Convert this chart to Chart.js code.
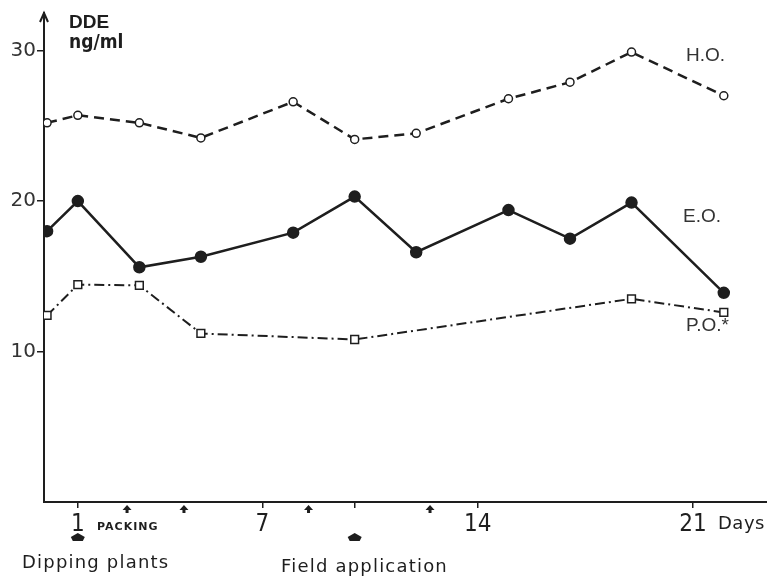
<!DOCTYPE html>
<html>
<head>
<meta charset="utf-8">
<script src="https://cdn.jsdelivr.net/npm/chart.js@4.4.1/dist/chart.umd.min.js"></script>
<style>
  html, body { margin: 0; padding: 0; background: #fff; }
  #wrap { width: 767px; height: 580px; position: relative; }
</style>
</head>
<body>
<div id="wrap"><canvas id="ddeChart"></canvas></div>
<script>
// days of sampling and DDE levels (ng/ml)
const hoDays = [0, 1, 3, 5, 8, 10, 12, 15, 17, 19, 22];
const hoValues = [25.2, 25.7, 25.2, 24.2, 26.6, 24.1, 24.5, 26.8, 27.9, 29.9, 27.0];
const eoDays = [0, 1, 3, 5, 8, 10, 12, 15, 17, 19, 22];
const eoValues = [18.0, 20.0, 15.6, 16.3, 17.9, 20.3, 16.6, 19.4, 17.5, 19.9, 13.9];
const poDays = [0, 1, 3, 5, 10, 19, 22];
const poValues = [12.4, 14.45, 14.4, 11.2, 10.8, 13.5, 12.6];

const xTickDays = [1, 7, 10, 14, 21];
const xTickLabels = { 1: '1', 7: '7', 14: '14', 21: '21' };
const yTickValues = [10, 20, 30];
const packingDays = [2.6, 4.45, 8.5, 12.45];
const eventDays = [1, 10];

const ink = '#1e1e1e';
const xMin = -0.1;
const dayWidth = 30.76; // px per day on the original figure

const toPoints = (days, values) => days.map((d, i) => ({ x: d, y: values[i] }));

const annotations = {
  id: 'annotations',
  afterDraw(chart) {
    const { ctx, chartArea, scales } = chart;
    const x = scales.x;
    const axisY = chartArea.bottom;
    ctx.save();
    ctx.fillStyle = ink;
    ctx.strokeStyle = ink;

    // x axis runs on to the page edge
    ctx.lineWidth = 2;
    ctx.beginPath();
    ctx.moveTo(chartArea.right - 1, axisY);
    ctx.lineTo(chart.width, axisY);
    ctx.stroke();

    // y axis arrow head
    ctx.beginPath();
    ctx.moveTo(chartArea.left - 4, chartArea.top + 9);
    ctx.lineTo(chartArea.left, chartArea.top);
    ctx.lineTo(chartArea.left + 4, chartArea.top + 9);
    ctx.stroke();

    // small packing arrows
    packingDays.forEach(d => {
      const px = x.getPixelForValue(d);
      ctx.beginPath();
      ctx.moveTo(px, axisY + 3);
      ctx.lineTo(px + 4.5, axisY + 8);
      ctx.lineTo(px + 1.5, axisY + 8);
      ctx.lineTo(px + 1.5, axisY + 11);
      ctx.lineTo(px - 1.5, axisY + 11);
      ctx.lineTo(px - 1.5, axisY + 8);
      ctx.lineTo(px - 4.5, axisY + 8);
      ctx.closePath();
      ctx.fill();
    });

    // big event markers
    eventDays.forEach(d => {
      const px = x.getPixelForValue(d);
      const top = axisY + 31;
      ctx.beginPath();
      ctx.moveTo(px, top);
      ctx.lineTo(px + 7, top + 4);
      ctx.lineTo(px + 5, top + 8);
      ctx.lineTo(px - 5, top + 8);
      ctx.lineTo(px - 7, top + 4);
      ctx.closePath();
      ctx.fill();
    });

    ctx.textBaseline = 'alphabetic';
    ctx.textAlign = 'left';

    ctx.font = 'bold 19px "Liberation Sans Narrow", sans-serif';
    ctx.fillText('DDE', 69, 28);
    ctx.font = 'bold 19px "DejaVu Sans Condensed", "Liberation Sans Narrow", sans-serif';
    ctx.fillText('ng/ml', 69, 48);

    ctx.font = '19px "Liberation Sans", sans-serif';
    ctx.fillStyle = '#333';
    ctx.fillText('H.O.', 686, 61);
    ctx.fillText('E.O.', 683, 222);
    ctx.fillText('P.O.*', 686, 331);

    ctx.fillStyle = ink;
    ctx.font = 'bold 11px "DejaVu Sans", sans-serif';
    ctx.letterSpacing = '1px';
    ctx.fillText('PACKING', 97, 530);

    ctx.font = '18px "DejaVu Sans", sans-serif';
    ctx.letterSpacing = '1.2px';
    ctx.fillText('Dipping plants', 22, 568);
    ctx.fillText('Field application', 281, 572);
    ctx.letterSpacing = '0.5px';
    ctx.fillText('Days', 718, 529);
    ctx.restore();
  }
};

const chart = new Chart(document.getElementById('ddeChart'), {
  type: 'line',
  data: {
    datasets: [
      {
        label: 'H.O.',
        data: toPoints(hoDays, hoValues),
        borderColor: ink,
        borderWidth: 2.5,
        borderDash: [10, 6],
        pointStyle: 'circle',
        pointRadius: 4,
        pointBorderWidth: 1.5,
        pointBackgroundColor: '#fff',
        pointBorderColor: ink,
        tension: 0
      },
      {
        label: 'E.O.',
        data: toPoints(eoDays, eoValues),
        borderColor: ink,
        borderWidth: 2.5,
        pointStyle: 'circle',
        pointRadius: 5,
        pointBackgroundColor: ink,
        pointBorderColor: ink,
        tension: 0
      },
      {
        label: 'P.O.',
        data: toPoints(poDays, poValues),
        borderColor: ink,
        borderWidth: 2,
        borderDash: [10, 4, 2, 4],
        pointStyle: 'rect',
        pointRadius: 5.5,
        pointBorderWidth: 1.5,
        pointBackgroundColor: '#fff',
        pointBorderColor: ink,
        tension: 0
      }
    ]
  },
  options: {
    responsive: true,
    maintainAspectRatio: false,
    animation: false,
    layout: { padding: { top: 10, right: 0, left: 0, bottom: 0 } },
    plugins: { legend: { display: false }, tooltip: { enabled: false } },
    scales: {
      x: {
        type: 'linear',
        min: xMin,
        max: 23.2,
        afterBuildTicks: scale => { scale.ticks = xTickDays.map(v => ({ value: v })); },
        afterFit: scale => { scale.height = 78; },
        border: { display: true, color: ink, width: 2 },
        grid: { drawOnChartArea: false, drawTicks: true, tickLength: 6, color: ink, lineWidth: 1.5 },
        ticks: {
          autoSkip: false,
          maxRotation: 0,
          padding: 2,
          color: ink,
          font: { family: '"Liberation Sans Narrow", "DejaVu Sans Condensed", sans-serif', size: 24 },
          callback: v => xTickLabels[v] || ''
        }
      },
      y: {
        min: 0,
        max: 32.5,
        afterBuildTicks: scale => { scale.ticks = yTickValues.map(v => ({ value: v })); },
        afterFit: scale => { scale.width = 44; },
        border: { display: true, color: ink, width: 2 },
        grid: { drawOnChartArea: false, drawTicks: true, tickLength: 7, color: ink, lineWidth: 1.5 },
        ticks: {
          padding: 1,
          color: '#333',
          font: { family: '"DejaVu Sans", sans-serif', size: 20 }
        }
      }
    }
  },
  plugins: [annotations]
});

// fit the day scale to the plot width so that one day keeps the original spacing
const area = chart.chartArea;
chart.options.scales.x.max = xMin + (area.right - area.left) / dayWidth;
chart.update();
</script>
</body>
</html>
